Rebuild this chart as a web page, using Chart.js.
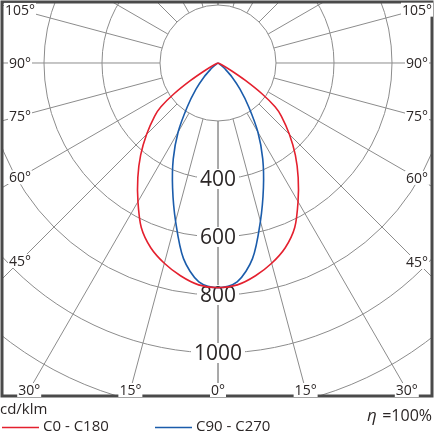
<!DOCTYPE html>
<html>
<head>
<meta charset="utf-8">
<script src="https://cdn.jsdelivr.net/npm/chart.js@4"></script>
<style>
  html, body { margin: 0; padding: 0; background: #fff; }
  #wrap { width: 440px; height: 440px; position: relative; }
</style>
</head>
<body>
<div id="wrap"><canvas id="ldc"></canvas></div>
<script>
// gamma angles (deg from nadir) and intensities in cd/klm
var gammaDeg = [0, 5, 10, 15, 20, 25, 30, 35, 40, 45, 50, 52.5, 55, 57.5, 60, 65, 70, 80, 90];
var c0c180   = [775, 768, 745, 715, 678, 626, 552, 482, 415, 348, 285, 248, 185, 112, 55, 14, 0, 0, 0];
var c90c270  = [775, 758, 685, 565, 458, 365, 275, 185, 118, 68, 30, 18, 8, 3, 0, 0, 0, 0, 0];

var ringValues = [200, 400, 600, 800, 1000, 1200];
var ringLabels = [400, 600, 800, 1000];
var spokeAngles = [0, 15, 30, 45, 60, 75, 90, 105, 120, 135, 150, 165, 180];
var angleLabels = [0, 15, 30, 45, 60, 75, 90, 105];
var seriesNames = ['C0 - C180', 'C90 - C270'];
var unitText = 'cd/klm';
var efficiency = '=100%';

var RED = '#e4202e';
var BLUE = '#1b5cab';
var GRID = '#8c8c8c';
var TEXT = '#2b2626';
var FONT = '"Open Sans", "Noto Sans", sans-serif';

// polar -> cartesian, left half mirrored
function curve(vals) {
  var pts = [];
  for (var i = gammaDeg.length - 1; i >= 0; i--) {
    var a = gammaDeg[i] * Math.PI / 180;
    pts.push({x: -vals[i] * Math.sin(a), y: -vals[i] * Math.cos(a)});
  }
  for (var j = 1; j < gammaDeg.length; j++) {
    var b = gammaDeg[j] * Math.PI / 180;
    pts.push({x: vals[j] * Math.sin(b), y: -vals[j] * Math.cos(b)});
  }
  return pts;
}

function labelBox(ctx, text, x, y, font, padX, padY) {
  ctx.font = font;
  var w = ctx.measureText(text).width;
  ctx.fillStyle = '#fff';
  ctx.fillRect(x - w / 2 - padX, y - padY, w + 2 * padX, 2 * padY);
  ctx.fillStyle = TEXT;
  ctx.textAlign = 'center';
  ctx.textBaseline = 'middle';
  ctx.fillText(text, x, y + 1);
}

var polarGrid = {
  id: 'polarGrid',
  beforeDatasetsDraw: function(chart) {
    var ctx = chart.ctx, a = chart.chartArea;
    var sx = chart.scales.x, sy = chart.scales.y;
    var cx = sx.getPixelForValue(0), cy = sy.getPixelForValue(0);
    var k = (sx.getPixelForValue(1000) - cx) / 1000;
    ctx.save();
    ctx.beginPath();
    ctx.rect(a.left, a.top, a.right - a.left, a.bottom - a.top);
    ctx.clip();
    ctx.strokeStyle = GRID;
    ctx.lineWidth = 1;
    ringValues.forEach(function(v) {
      ctx.beginPath();
      ctx.arc(cx, cy, v * k, 0, Math.PI * 2);
      ctx.stroke();
    });
    var r0 = ringValues[0] * k, r1 = 3000 * k;
    spokeAngles.forEach(function(g) {
      [-1, 1].forEach(function(side) {
        var s = Math.sin(g * Math.PI / 180) * side, c = Math.cos(g * Math.PI / 180);
        ctx.beginPath();
        ctx.moveTo(cx + s * r0, cy + c * r0);
        ctx.lineTo(cx + s * r1, cy + c * r1);
        ctx.stroke();
      });
    });
    ringLabels.forEach(function(v) {
      labelBox(ctx, String(v), cx, cy + v * k, '21px ' + FONT, 3, 10);
    });
    ctx.restore();
  },
  afterDraw: function(chart) {
    var ctx = chart.ctx, a = chart.chartArea;
    var sx = chart.scales.x, sy = chart.scales.y;
    var cx = sx.getPixelForValue(0), cy = sy.getPixelForValue(0);
    ctx.save();
    // frame
    ctx.strokeStyle = '#4a4a4a';
    ctx.lineWidth = 3;
    ctx.strokeRect(a.left, a.top, a.right - a.left, a.bottom - a.top);

    // angle labels where the spoke meets an inset box
    var inL = a.left + 18, inR = a.right - 15, inB = a.bottom - 6;
    angleLabels.forEach(function(g) {
      [-1, 1].forEach(function(side) {
        if (g === 0 && side === 1) return;
        var s = Math.sin(g * Math.PI / 180), c = Math.cos(g * Math.PI / 180);
        var t = Infinity;
        if (s > 1e-6) t = Math.min(t, (side < 0 ? cx - inL : inR - cx) / s);
        if (c > 1e-6) t = Math.min(t, (inB - cy) / c);
        var px = cx + side * s * t, py = cy + c * t;
        labelBox(ctx, g + '\u00b0', px, py, '14px ' + FONT, 1, 7);
      });
    });

    // legend / footer
    var base = a.bottom;
    ctx.fillStyle = TEXT;
    ctx.textAlign = 'left';
    ctx.textBaseline = 'middle';
    ctx.font = '15px ' + FONT;
    ctx.fillText(unitText, 0, base + 14);

    var rows = [{x: 2, col: RED, name: seriesNames[0]}, {x: 155, col: BLUE, name: seriesNames[1]}];
    rows.forEach(function(r) {
      ctx.strokeStyle = r.col;
      ctx.lineWidth = 1.5;
      ctx.beginPath();
      ctx.moveTo(r.x, base + 31.5);
      ctx.lineTo(r.x + 37, base + 31.5);
      ctx.stroke();
      ctx.fillStyle = TEXT;
      ctx.fillText(r.name, r.x + 41, base + 31);
    });

    ctx.textAlign = 'right';
    ctx.font = '16px ' + FONT;
    var ew = ctx.measureText(efficiency).width;
    ctx.fillText(efficiency, a.right, base + 20);
    ctx.font = 'italic 17px ' + FONT;
    ctx.fillText('\u03b7 ', a.right - ew - 1, base + 20);
    ctx.restore();
  }
};

new Chart(document.getElementById('ldc'), {
  type: 'scatter',
  data: {
    datasets: [
      {label: seriesNames[0], data: curve(c0c180), showLine: true, borderColor: RED,
       borderWidth: 1.6, pointRadius: 0, tension: 0.3, fill: false},
      {label: seriesNames[1], data: curve(c90c270), showLine: true, borderColor: BLUE,
       borderWidth: 1.6, pointRadius: 0, tension: 0.3, fill: false}
    ]
  },
  options: {
    responsive: true,
    maintainAspectRatio: false,
    animation: false,
    layout: {padding: {left: 2, right: 8, top: 2, bottom: 44}},
    scales: {
      x: {type: 'linear', min: -744.8, max: 737.9, display: false},
      y: {type: 'linear', min: -1148.3, max: 210.3, display: false}
    },
    plugins: {legend: {display: false}, tooltip: {enabled: false}}
  },
  plugins: [polarGrid]
});
</script>
</body>
</html>
